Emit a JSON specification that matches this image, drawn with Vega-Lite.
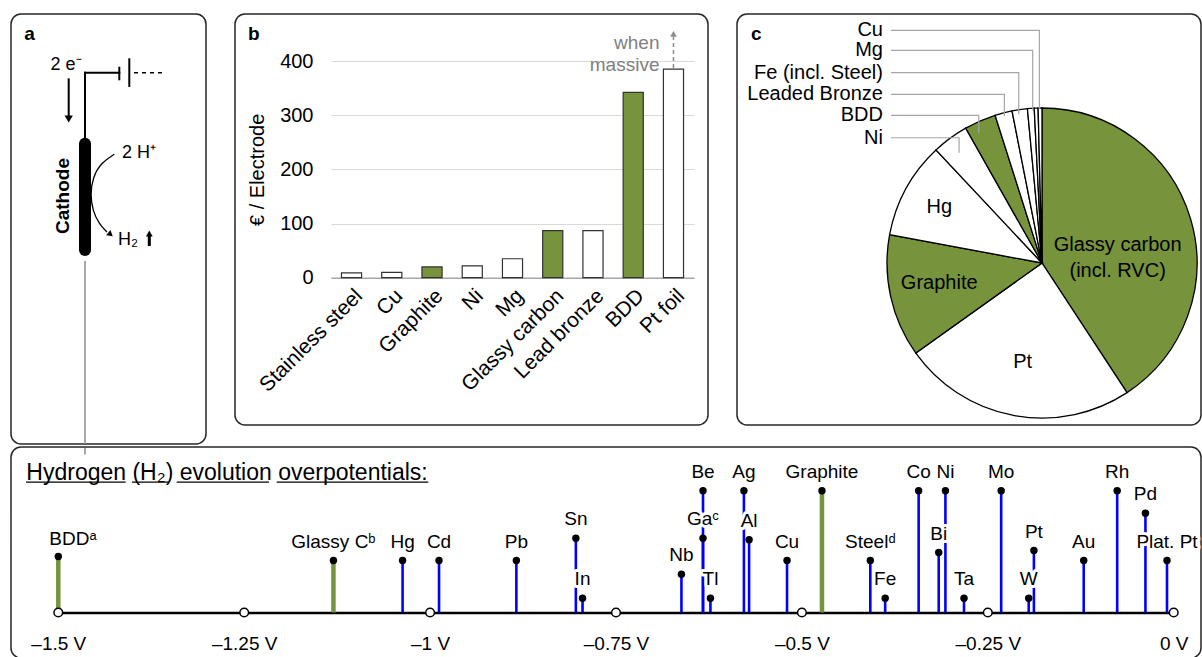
{
  "$schema": "https://vega.github.io/schema/vega-lite/v6.json",
  "padding": {"left": 10, "top": 13, "right": 0, "bottom": 0},
  "background": "white",
  "spacing": 0,
  "config": {
    "font": "Liberation Sans",
    "view": {"stroke": null},
    "axis": {"labelColor": "black", "titleColor": "black", "labelFont": "Liberation Sans", "titleFont": "Liberation Sans"},
    "title": {"font": "Liberation Sans", "color": "black"}
  },
  "datasets": {
    "a_rules": [
      {"kind": "wire", "x": 7.4, "y": 5.87, "x2": 7.4, "y2": 12.7},
      {"kind": "wire", "x": 7.4, "y": 5.87, "x2": 10.83, "y2": 5.87},
      {"kind": "wire", "x": 10.83, "y": 5.37, "x2": 10.83, "y2": 6.53},
      {"kind": "wire", "x": 11.83, "y": 4.53, "x2": 11.83, "y2": 7.2},
      {"kind": "wire", "x": 5.77, "y": 6.53, "x2": 5.77, "y2": 10.2},
      {"kind": "dash", "x": 12.3, "y": 5.87, "x2": 15.5, "y2": 5.87},
      {"kind": "cathode", "x": 7.4, "y": 12.97, "x2": 7.4, "y2": 23.6},
      {"kind": "lead", "x": 7.4, "y": 24.7, "x2": 7.4, "y2": 43.0},
      {"kind": "up", "x": 13.83, "y": 22.1, "x2": 13.83, "y2": 23.2}
    ],
    "a_heads": [
      {"kind": "down", "x": 5.77, "y": 10.5},
      {"kind": "curve", "x": 9.95, "y": 22.05},
      {"kind": "up", "x": 13.83, "y": 21.95}
    ],
    "a_curve": [
      {"i": 0, "x": 10.33, "y": 14.03},
      {"i": 1, "x": 9.0, "y": 14.87},
      {"i": 2, "x": 8.17, "y": 16.37},
      {"i": 3, "x": 7.93, "y": 18.03},
      {"i": 4, "x": 8.17, "y": 19.7},
      {"i": 5, "x": 8.83, "y": 21.03},
      {"i": 6, "x": 9.6, "y": 21.8}
    ],
    "a_text": [
      {"role": "letter", "t": "a", "x": 1.33, "y": 2.0},
      {"role": "label", "t": "2 e⁻", "x": 5.5, "y": 5.05},
      {"role": "label", "t": "2 H⁺", "x": 12.8, "y": 13.9},
      {"role": "label", "t": "H₂", "x": 11.7, "y": 22.6},
      {"role": "rotated", "t": "Cathode", "x": 5.17, "y": 18.2}
    ],
    "costs": [
      {"electrode": "Stainless steel", "cost": 9, "material": "other"},
      {"electrode": "Cu", "cost": 10, "material": "other"},
      {"electrode": "Graphite", "cost": 20, "material": "carbon"},
      {"electrode": "Ni", "cost": 22, "material": "other"},
      {"electrode": "Mg", "cost": 35, "material": "other"},
      {"electrode": "Glassy carbon", "cost": 87, "material": "carbon"},
      {"electrode": "Lead bronze", "cost": 87, "material": "other"},
      {"electrode": "BDD", "cost": 342, "material": "carbon"},
      {"electrode": "Pt foil", "cost": 385, "material": "other"}
    ],
    "pie": [
      {"name": "Glassy carbon (incl. RVC)", "share": 40.8, "order": 1, "material": "carbon"},
      {"name": "Pt", "share": 24.4, "order": 2, "material": "other"},
      {"name": "Graphite", "share": 12.8, "order": 3, "material": "carbon"},
      {"name": "Hg", "share": 10.1, "order": 4, "material": "other"},
      {"name": "Ni", "share": 3.8, "order": 5, "material": "other"},
      {"name": "BDD", "share": 3.3, "order": 6, "material": "carbon"},
      {"name": "Leaded Bronze", "share": 1.8, "order": 7, "material": "other"},
      {"name": "Fe (incl. Steel)", "share": 1.6, "order": 8, "material": "other"},
      {"name": "Mg", "share": 0.7, "order": 9, "material": "other"},
      {"name": "Other", "share": 0.4, "order": 10, "material": "other"},
      {"name": "Cu", "share": 0.4, "order": 11, "material": "other"}
    ],
    "pie_labels": [
      {"kind": "outside", "t": "Cu", "x": -1.026, "y": 1.501},
      {"kind": "outside", "t": "Mg", "x": -1.026, "y": 1.372},
      {"kind": "outside", "t": "Fe (incl. Steel)", "x": -1.026, "y": 1.228},
      {"kind": "outside", "t": "Leaded Bronze", "x": -1.026, "y": 1.088},
      {"kind": "outside", "t": "BDD", "x": -1.026, "y": 0.953},
      {"kind": "outside", "t": "Ni", "x": -1.026, "y": 0.808},
      {"kind": "inside", "t": "Glassy carbon\n(incl. RVC)", "x": 0.488, "y": 0.117},
      {"kind": "inside", "t": "Hg", "x": -0.663, "y": 0.363},
      {"kind": "inside", "t": "Graphite", "x": -0.663, "y": -0.127},
      {"kind": "inside", "t": "Pt", "x": -0.125, "y": -0.637}
    ],
    "leaders": [
      {"name": "Cu", "i": 0, "x": -0.974, "y": 1.501},
      {"name": "Cu", "i": 1, "x": -0.017, "y": 1.501},
      {"name": "Cu", "i": 2, "x": -0.017, "y": 0.995},
      {"name": "Mg", "i": 0, "x": -0.974, "y": 1.372},
      {"name": "Mg", "i": 1, "x": -0.06, "y": 1.372},
      {"name": "Mg", "i": 2, "x": -0.06, "y": 0.985},
      {"name": "Fe", "i": 0, "x": -0.974, "y": 1.228},
      {"name": "Fe", "i": 1, "x": -0.15, "y": 1.228},
      {"name": "Fe", "i": 2, "x": -0.15, "y": 0.959},
      {"name": "LB", "i": 0, "x": -0.974, "y": 1.088},
      {"name": "LB", "i": 1, "x": -0.243, "y": 1.088},
      {"name": "LB", "i": 2, "x": -0.243, "y": 0.948},
      {"name": "BDD", "i": 0, "x": -0.974, "y": 0.953},
      {"name": "BDD", "i": 1, "x": -0.408, "y": 0.953},
      {"name": "BDD", "i": 2, "x": -0.408, "y": 0.841},
      {"name": "Ni", "i": 0, "x": -0.974, "y": 0.808},
      {"name": "Ni", "i": 1, "x": -0.535, "y": 0.808},
      {"name": "Ni", "i": 2, "x": -0.535, "y": 0.712}
    ],
    "hep": [
      {"label": "BDDᵃ", "v": -1.5, "h": 5.6, "type": "carbon"},
      {"label": "Glassy Cᵇ", "v": -1.13, "h": 5.2, "type": "carbon"},
      {"label": "Hg", "v": -1.037, "h": 5.2, "type": "metal"},
      {"label": "Cd", "v": -0.988, "h": 5.2, "type": "metal"},
      {"label": "Pb", "v": -0.884, "h": 5.2, "type": "metal"},
      {"label": "Sn", "v": -0.804, "h": 7.43, "type": "metal"},
      {"label": "In", "v": -0.795, "h": 1.43, "type": "metal"},
      {"label": "Nb", "v": -0.662, "h": 3.83, "type": "metal"},
      {"label": "Be", "v": -0.633, "h": 12.17, "type": "metal"},
      {"label": "Gaᶜ", "v": -0.633, "h": 7.43, "type": "metal"},
      {"label": "Tl", "v": -0.623, "h": 1.43, "type": "metal"},
      {"label": "Ag", "v": -0.578, "h": 12.17, "type": "metal"},
      {"label": "Al", "v": -0.571, "h": 7.27, "type": "metal"},
      {"label": "Cu", "v": -0.52, "h": 5.2, "type": "metal"},
      {"label": "Graphite", "v": -0.473, "h": 12.17, "type": "carbon"},
      {"label": "Steelᵈ", "v": -0.408, "h": 5.2, "type": "metal"},
      {"label": "Fe", "v": -0.388, "h": 1.43, "type": "metal"},
      {"label": "Co", "v": -0.343, "h": 12.17, "type": "metal"},
      {"label": "Bi", "v": -0.316, "h": 6.0, "type": "metal"},
      {"label": "Ni", "v": -0.307, "h": 12.17, "type": "metal"},
      {"label": "Ta", "v": -0.282, "h": 1.43, "type": "metal"},
      {"label": "Mo", "v": -0.232, "h": 12.17, "type": "metal"},
      {"label": "W", "v": -0.195, "h": 1.43, "type": "metal"},
      {"label": "Pt", "v": -0.188, "h": 6.2, "type": "metal"},
      {"label": "Au", "v": -0.121, "h": 5.2, "type": "metal"},
      {"label": "Rh", "v": -0.076, "h": 12.17, "type": "metal"},
      {"label": "Pd", "v": -0.038, "h": 9.93, "type": "metal"},
      {"label": "Plat. Pt", "v": -0.009, "h": 5.2, "type": "metal"}
    ],
    "ticks": [{"v": -1.5}, {"v": -1.25}, {"v": -1}, {"v": -0.75}, {"v": -0.5}, {"v": -0.25}, {"v": 0}],
    "underline": [
      {"word": "Hydrogen", "x": -1.5434, "x2": -1.4094},
      {"word": "(H₂)", "x": -1.4009, "x2": -1.3511},
      {"word": "evolution", "x": -1.3408, "x2": -1.2167},
      {"word": "overpotentials:", "x": -1.2063, "x2": -1.0024}
    ]
  },
  "vconcat": [
    {
      "hconcat": [
        {
          "width": 195,
          "height": 430,
          "view": {"stroke": "#262626", "strokeWidth": 1.5, "cornerRadius": 10},
          "layer": [
            {
              "data": {"name": "a_rules"},
              "transform": [{"filter": "datum.kind == 'lead'"}],
              "mark": {"type": "rule", "color": "#8c8c8c", "strokeWidth": 1.5},
              "encoding": {
                "x": {"field": "x", "type": "quantitative", "scale": {"domain": [0, 19.5], "nice": false, "zero": false}, "axis": null},
                "y": {"field": "y", "type": "quantitative", "scale": {"domain": [0, 43], "reverse": true, "nice": false, "zero": false}, "axis": null},
                "x2": {"field": "x2"},
                "y2": {"field": "y2"}
              }
            },
            {
              "data": {"name": "a_rules"},
              "transform": [{"filter": "datum.kind == 'wire'"}],
              "mark": {"type": "rule", "color": "black", "strokeWidth": 2, "strokeCap": "square"},
              "encoding": {
                "x": {"field": "x", "type": "quantitative"},
                "y": {"field": "y", "type": "quantitative"},
                "x2": {"field": "x2"},
                "y2": {"field": "y2"}
              }
            },
            {
              "data": {"name": "a_rules"},
              "transform": [{"filter": "datum.kind == 'dash'"}],
              "mark": {"type": "rule", "color": "black", "strokeWidth": 1.5, "strokeDash": [4, 4]},
              "encoding": {
                "x": {"field": "x", "type": "quantitative"},
                "y": {"field": "y", "type": "quantitative"},
                "x2": {"field": "x2"},
                "y2": {"field": "y2"}
              }
            },
            {
              "data": {"name": "a_rules"},
              "transform": [{"filter": "datum.kind == 'cathode'"}],
              "mark": {"type": "rule", "color": "black", "strokeWidth": 12, "strokeCap": "round"},
              "encoding": {
                "x": {"field": "x", "type": "quantitative"},
                "y": {"field": "y", "type": "quantitative"},
                "x2": {"field": "x2"},
                "y2": {"field": "y2"}
              }
            },
            {
              "data": {"name": "a_rules"},
              "transform": [{"filter": "datum.kind == 'up'"}],
              "mark": {"type": "rule", "color": "black", "strokeWidth": 3},
              "encoding": {
                "x": {"field": "x", "type": "quantitative"},
                "y": {"field": "y", "type": "quantitative"},
                "x2": {"field": "x2"},
                "y2": {"field": "y2"}
              }
            },
            {
              "data": {"name": "a_curve"},
              "mark": {"type": "line", "color": "black", "strokeWidth": 1.3, "interpolate": "basis"},
              "encoding": {
                "x": {"field": "x", "type": "quantitative"},
                "y": {"field": "y", "type": "quantitative"},
                "order": {"field": "i", "type": "quantitative"}
              }
            },
            {
              "data": {"name": "a_heads"},
              "transform": [{"filter": "datum.kind == 'down'"}],
              "mark": {"type": "point", "shape": "triangle-down", "filled": true, "color": "black", "opacity": 1, "size": 70},
              "encoding": {
                "x": {"field": "x", "type": "quantitative"},
                "y": {"field": "y", "type": "quantitative"}
              }
            },
            {
              "data": {"name": "a_heads"},
              "transform": [{"filter": "datum.kind == 'curve'"}],
              "mark": {"type": "point", "shape": "triangle-right", "angle": 40, "filled": true, "color": "black", "opacity": 1, "size": 45},
              "encoding": {
                "x": {"field": "x", "type": "quantitative"},
                "y": {"field": "y", "type": "quantitative"}
              }
            },
            {
              "data": {"name": "a_heads"},
              "transform": [{"filter": "datum.kind == 'up'"}],
              "mark": {"type": "point", "shape": "triangle-up", "filled": true, "color": "black", "opacity": 1, "size": 45},
              "encoding": {
                "x": {"field": "x", "type": "quantitative"},
                "y": {"field": "y", "type": "quantitative"}
              }
            },
            {
              "data": {"name": "a_text"},
              "transform": [{"filter": "datum.role == 'label'"}],
              "mark": {"type": "text", "fontSize": 18, "align": "center", "baseline": "middle", "color": "black"},
              "encoding": {
                "x": {"field": "x", "type": "quantitative"},
                "y": {"field": "y", "type": "quantitative"},
                "text": {"field": "t"}
              }
            },
            {
              "data": {"name": "a_text"},
              "transform": [{"filter": "datum.role == 'letter'"}],
              "mark": {"type": "text", "fontSize": 19, "fontWeight": "bold", "align": "left", "baseline": "middle", "color": "black"},
              "encoding": {
                "x": {"field": "x", "type": "quantitative"},
                "y": {"field": "y", "type": "quantitative"},
                "text": {"field": "t"}
              }
            },
            {
              "data": {"name": "a_text"},
              "transform": [{"filter": "datum.role == 'rotated'"}],
              "mark": {"type": "text", "fontSize": 19, "fontWeight": "bold", "align": "center", "baseline": "middle", "angle": 270, "color": "black"},
              "encoding": {
                "x": {"field": "x", "type": "quantitative"},
                "y": {"field": "y", "type": "quantitative"},
                "text": {"field": "t"}
              }
            }
          ]
        },
        {
          "width": 473,
          "height": 411,
          "view": {"stroke": "#262626", "strokeWidth": 1.5, "cornerRadius": 10},
          "title": {"text": "b", "anchor": "start", "frame": "group", "offset": -30, "dx": 13, "fontSize": 19, "fontWeight": "bold", "color": "black"},
          "layer": [
            {
              "data": {"name": "costs"},
              "mark": {"type": "bar", "stroke": "#333333", "strokeWidth": 1.2},
              "encoding": {
                "x": {
                  "field": "electrode", "type": "nominal", "sort": null,
                  "scale": {"domain": ["Stainless steel", "Cu", "Graphite", "Ni", "Mg", "Glassy carbon", "Lead bronze", "BDD", "Pt foil"], "range": [96, 459], "paddingInner": 0.5, "paddingOuter": 0.26},
                  "axis": {"orient": "bottom", "offset": -147.3, "title": null, "labelAngle": -45, "labelFontSize": 21, "labelPadding": 7, "ticks": false, "domainColor": "#a6a6a6", "domainWidth": 1.5, "labelColor": "black"}
                },
                "y": {
                  "field": "cost", "type": "quantitative",
                  "scale": {"domain": [0, 400], "range": [263.7, 47], "nice": false},
                  "axis": {"title": "€ / Electrode", "titleFontSize": 20, "titleFontWeight": "normal", "offset": -96, "domain": false, "ticks": false, "tickSize": 0, "values": [0, 100, 200, 300, 400], "labelFontSize": 20, "labelPadding": 18, "gridColor": "#d9d9d9", "gridWidth": 1.2, "titlePadding": 12}
                },
                "fill": {"field": "material", "type": "nominal", "scale": {"domain": ["carbon", "other"], "range": ["#77933c", "#ffffff"]}, "legend": null}
              }
            },
            {
              "data": {"values": [{}]},
              "mark": {"type": "rule", "color": "#8c8c8c", "strokeDash": [4, 3], "strokeWidth": 1.5},
              "encoding": {
                "x": {"datum": "Pt foil", "type": "nominal"},
                "y": {"datum": 387, "type": "quantitative"},
                "y2": {"datum": 446}
              }
            },
            {
              "data": {"values": [{}]},
              "mark": {"type": "point", "shape": "triangle-up", "filled": true, "color": "#8c8c8c", "opacity": 1, "size": 45},
              "encoding": {
                "x": {"datum": "Pt foil", "type": "nominal"},
                "y": {"datum": 450, "type": "quantitative"}
              }
            },
            {
              "data": {"values": [{}]},
              "mark": {"type": "text", "text": ["when", "massive"], "lineHeight": 22, "align": "right", "baseline": "middle", "dx": -14, "fontSize": 19, "color": "#808080"},
              "encoding": {
                "x": {"datum": "Pt foil", "type": "nominal"},
                "y": {"datum": 434, "type": "quantitative"}
              }
            }
          ]
        },
        {
          "width": 464,
          "height": 411,
          "view": {"stroke": "#262626", "strokeWidth": 1.5, "cornerRadius": 10},
          "title": {"text": "c", "anchor": "start", "frame": "group", "offset": -30, "dx": 14, "fontSize": 19, "fontWeight": "bold", "color": "black"},
          "layer": [
            {
              "data": {"name": "pie"},
              "mark": {"type": "arc", "outerRadius": 155, "stroke": "#000000", "strokeWidth": 1.3},
              "encoding": {
                "theta": {"field": "share", "type": "quantitative", "stack": true},
                "order": {"field": "order", "type": "quantitative"},
                "fill": {"field": "material", "type": "nominal", "scale": {"domain": ["carbon", "other"], "range": ["#77933c", "#ffffff"]}, "legend": null},
                "x": {"datum": 0, "type": "quantitative", "scale": {"domain": [-1.9677, 1.0258], "nice": false, "zero": false}, "axis": null},
                "y": {"datum": 0, "type": "quantitative", "scale": {"domain": [-1.0452, 1.6065], "nice": false, "zero": false}, "axis": null}
              }
            },
            {
              "data": {"name": "leaders"},
              "mark": {"type": "line", "color": "#a6a6a6", "strokeWidth": 1.2},
              "encoding": {
                "x": {"field": "x", "type": "quantitative"},
                "y": {"field": "y", "type": "quantitative"},
                "detail": {"field": "name", "type": "nominal"},
                "order": {"field": "i", "type": "quantitative"}
              }
            },
            {
              "data": {"name": "pie_labels"},
              "transform": [{"filter": "datum.kind == 'outside'"}],
              "mark": {"type": "text", "align": "right", "baseline": "middle", "fontSize": 20, "color": "black"},
              "encoding": {
                "x": {"field": "x", "type": "quantitative"},
                "y": {"field": "y", "type": "quantitative"},
                "text": {"field": "t"}
              }
            },
            {
              "data": {"name": "pie_labels"},
              "transform": [{"filter": "datum.kind == 'inside'"}],
              "mark": {"type": "text", "align": "center", "baseline": "middle", "fontSize": 20, "lineBreak": "\n", "lineHeight": 26, "color": "black"},
              "encoding": {
                "x": {"field": "x", "type": "quantitative"},
                "y": {"field": "y", "type": "quantitative"},
                "text": {"field": "t"}
              }
            }
          ]
        }
      ],
      "spacing": 29,
      "bounds": "flush"
    },
    {
      "width": 1190,
      "height": 211,
      "view": {"stroke": "#262626", "strokeWidth": 1.5, "cornerRadius": 10},
      "layer": [
        {
          "data": {"name": "hep"},
          "mark": {"type": "rule"},
          "encoding": {
            "x": {
              "field": "v", "type": "quantitative",
              "scale": {"domain": [-1.5, 0], "range": [47.3, 1162.7], "nice": false, "zero": false},
              "axis": {"orient": "bottom", "offset": -45.5, "values": [-1.5, -1.25, -1, -0.75, -0.5, -0.25, 0], "labelExpr": "datum.value == 0 ? '0 V' : '–' + format(abs(datum.value), '') + ' V'", "title": null, "ticks": false, "grid": false, "domainColor": "black", "domainWidth": 2.5, "labelFontSize": 19, "labelPadding": 22, "labelColor": "black", "labelFlush": false, "labelOverlap": false}
            },
            "y": {"field": "h", "type": "quantitative", "scale": {"domain": [0, 16.8], "range": [165.5, -2.5], "nice": false, "zero": false}, "axis": null},
            "y2": {"datum": 0},
            "color": {"field": "type", "type": "nominal", "scale": {"domain": ["carbon", "metal"], "range": ["#77933c", "#0000ff"]}, "legend": null},
            "strokeWidth": {"field": "type", "type": "nominal", "scale": {"domain": ["carbon", "metal"], "range": [4.5, 2.6]}, "legend": null}
          }
        },
        {
          "data": {"values": [{}]},
          "mark": {"type": "rule", "color": "#8c8c8c", "strokeWidth": 1.5},
          "encoding": {
            "x": {"datum": -1.4641, "type": "quantitative"},
            "y": {"datum": 16.45, "type": "quantitative"},
            "y2": {"datum": 15.8}
          }
        },
        {
          "data": {"name": "hep"},
          "transform": [{"filter": "datum.label != 'BDDᵃ'"}],
          "mark": {"type": "text", "dy": -19, "fontSize": 19, "align": "center", "baseline": "middle", "fill": "white", "stroke": "white", "strokeWidth": 6, "strokeJoin": "round"},
          "encoding": {
            "x": {"field": "v", "type": "quantitative"},
            "y": {"field": "h", "type": "quantitative"},
            "text": {"field": "label"}
          }
        },
        {
          "data": {"name": "hep"},
          "transform": [{"filter": "datum.label != 'BDDᵃ'"}],
          "mark": {"type": "text", "dy": -19, "fontSize": 19, "align": "center", "baseline": "middle", "color": "black"},
          "encoding": {
            "x": {"field": "v", "type": "quantitative"},
            "y": {"field": "h", "type": "quantitative"},
            "text": {"field": "label"}
          }
        },
        {
          "data": {"name": "hep"},
          "transform": [{"filter": "datum.label == 'BDDᵃ'"}],
          "mark": {"type": "text", "dy": -18, "dx": -9, "fontSize": 19, "align": "left", "baseline": "middle", "color": "black"},
          "encoding": {
            "x": {"field": "v", "type": "quantitative"},
            "y": {"field": "h", "type": "quantitative"},
            "text": {"field": "label"}
          }
        },
        {
          "data": {"name": "hep"},
          "mark": {"type": "point", "filled": true, "color": "black", "opacity": 1, "size": 55},
          "encoding": {
            "x": {"field": "v", "type": "quantitative"},
            "y": {"field": "h", "type": "quantitative"}
          }
        },
        {
          "data": {"name": "ticks"},
          "mark": {"type": "point", "filled": true, "fill": "white", "stroke": "black", "strokeWidth": 1.5, "opacity": 1, "size": 75},
          "encoding": {
            "x": {"field": "v", "type": "quantitative"},
            "y": {"datum": 0, "type": "quantitative"}
          }
        },
        {
          "data": {"values": [{}]},
          "mark": {"type": "text", "text": "Hydrogen (H₂) evolution overpotentials:", "align": "left", "baseline": "middle", "fontSize": 23, "color": "black"},
          "encoding": {
            "x": {"datum": -1.543, "type": "quantitative"},
            "y": {"datum": 13.93, "type": "quantitative"}
          }
        },
        {
          "data": {"name": "underline"},
          "mark": {"type": "rule", "color": "black", "strokeWidth": 1.3},
          "encoding": {
            "x": {"field": "x", "type": "quantitative"},
            "x2": {"field": "x2"},
            "y": {"datum": 13.03, "type": "quantitative"}
          }
        }
      ]
    }
  ]
}
